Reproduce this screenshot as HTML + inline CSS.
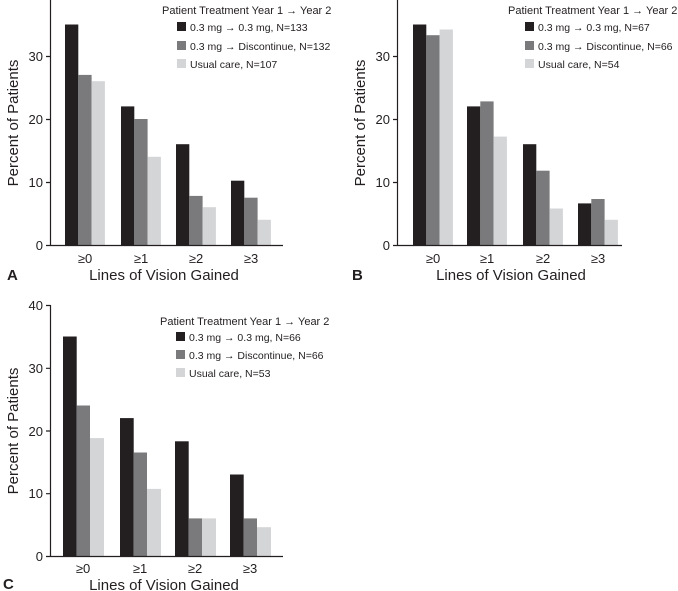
<!DOCTYPE html><html><head><style>body{margin:0;background:#fff}svg{display:block}text{font-family:"Liberation Sans",sans-serif;fill:#231f20}</style></head><body>
<svg width="678" height="591" viewBox="0 0 678 591" xmlns="http://www.w3.org/2000/svg">
<g id="A">
<g fill="#231f20"><rect x="65" y="24.5" width="13.3" height="220.5"/><rect x="121" y="106.4" width="13.3" height="138.6"/><rect x="176" y="144.2" width="13.3" height="100.8"/><rect x="231" y="180.7" width="13.3" height="64.3"/></g>
<g fill="#7a7a7c"><rect x="78.3" y="74.9" width="13.3" height="170.1"/><rect x="134.3" y="119" width="13.3" height="126"/><rect x="189.3" y="195.9" width="13.3" height="49.1"/><rect x="244.3" y="197.7" width="13.3" height="47.3"/></g>
<g fill="#d4d5d7"><rect x="91.6" y="81.2" width="13.3" height="163.8"/><rect x="147.6" y="156.8" width="13.3" height="88.2"/><rect x="202.6" y="207.2" width="13.3" height="37.8"/><rect x="257.6" y="219.8" width="13.3" height="25.2"/></g>
<path d="M50.5 0V245.5H283M46 56.5H50.5M46 119.5H50.5M46 182.5H50.5M46 245.5H50.5" stroke="#231f20" stroke-width="1.2" fill="none"/>
<g font-size="13" text-anchor="end"><text x="43" y="61">30</text><text x="43" y="124">20</text><text x="43" y="187">10</text><text x="43" y="250">0</text></g>
<g font-size="13" text-anchor="middle"><text x="85" y="263">≥0</text><text x="141" y="263">≥1</text><text x="196" y="263">≥2</text><text x="251" y="263">≥3</text></g>
<text x="164" y="280" font-size="15" text-anchor="middle">Lines of Vision Gained</text>
<text x="7" y="280" font-size="15" font-weight="bold">A</text>
<text transform="translate(18 123) rotate(-90)" font-size="15" text-anchor="middle">Percent of Patients</text>
<text x="162" y="14" font-size="11">Patient Treatment Year 1 → Year 2</text>
<rect x="177" y="22" width="9" height="9" fill="#231f20"/><text x="190" y="31" font-size="10.5">0.3 mg → 0.3 mg, N=133</text>
<rect x="177" y="41" width="9" height="9" fill="#7a7a7c"/><text x="190" y="50" font-size="10.5">0.3 mg → Discontinue, N=132</text>
<rect x="177" y="59" width="9" height="9" fill="#d4d5d7"/><text x="190" y="68" font-size="10.5">Usual care, N=107</text>
</g>
<g id="B">
<g fill="#231f20"><rect x="413" y="24.5" width="13.3" height="220.5"/><rect x="467" y="106.4" width="13.3" height="138.6"/><rect x="523" y="144.2" width="13.3" height="100.8"/><rect x="578" y="203.4" width="13.3" height="41.6"/></g>
<g fill="#7a7a7c"><rect x="426.3" y="35.2" width="13.3" height="209.8"/><rect x="480.3" y="101.4" width="13.3" height="143.6"/><rect x="536.3" y="170.7" width="13.3" height="74.3"/><rect x="591.3" y="199" width="13.3" height="46"/></g>
<g fill="#d4d5d7"><rect x="439.6" y="29.5" width="13.3" height="215.5"/><rect x="493.6" y="136.6" width="13.3" height="108.4"/><rect x="549.6" y="208.5" width="13.3" height="36.5"/><rect x="604.6" y="219.8" width="13.3" height="25.2"/></g>
<path d="M397.5 0V245.5H622M393 56.5H397.5M393 119.5H397.5M393 182.5H397.5M393 245.5H397.5" stroke="#231f20" stroke-width="1.2" fill="none"/>
<g font-size="13" text-anchor="end"><text x="390" y="61">30</text><text x="390" y="124">20</text><text x="390" y="187">10</text><text x="390" y="250">0</text></g>
<g font-size="13" text-anchor="middle"><text x="433" y="263">≥0</text><text x="487" y="263">≥1</text><text x="543" y="263">≥2</text><text x="598" y="263">≥3</text></g>
<text x="511" y="280" font-size="15" text-anchor="middle">Lines of Vision Gained</text>
<text x="352" y="280" font-size="15" font-weight="bold">B</text>
<text transform="translate(365 123) rotate(-90)" font-size="15" text-anchor="middle">Percent of Patients</text>
<text x="508" y="14" font-size="11">Patient Treatment Year 1 → Year 2</text>
<rect x="525" y="22" width="9" height="9" fill="#231f20"/><text x="538" y="31" font-size="10.5">0.3 mg → 0.3 mg, N=67</text>
<rect x="525" y="41" width="9" height="9" fill="#7a7a7c"/><text x="538" y="50" font-size="10.5">0.3 mg → Discontinue, N=66</text>
<rect x="525" y="59" width="9" height="9" fill="#d4d5d7"/><text x="538" y="68" font-size="10.5">Usual care, N=54</text>
</g>
<g id="C">
<g fill="#231f20"><rect x="63" y="336.5" width="13.7" height="219.5"/><rect x="120" y="418.1" width="13.7" height="137.9"/><rect x="175" y="441.3" width="13.7" height="114.7"/><rect x="230" y="474.5" width="13.7" height="81.5"/></g>
<g fill="#7a7a7c"><rect x="76.7" y="405.5" width="13.3" height="150.5"/><rect x="133.7" y="452.5" width="13.3" height="103.5"/><rect x="188.7" y="518.4" width="13.3" height="37.6"/><rect x="243.7" y="518.4" width="13.3" height="37.6"/></g>
<g fill="#d4d5d7"><rect x="90" y="438.1" width="14" height="117.9"/><rect x="147" y="488.9" width="14" height="67.1"/><rect x="202" y="518.4" width="14" height="37.6"/><rect x="257" y="527.2" width="14" height="28.8"/></g>
<path d="M50.5 305V556.5H283M46 305.5H50.5M46 368.3H50.5M46 431H50.5M46 493.7H50.5M46 556.5H50.5" stroke="#231f20" stroke-width="1.2" fill="none"/>
<g font-size="13" text-anchor="end"><text x="43" y="310">40</text><text x="43" y="373">30</text><text x="43" y="436">20</text><text x="43" y="498">10</text><text x="43" y="561">0</text></g>
<g font-size="13" text-anchor="middle"><text x="83" y="573">≥0</text><text x="140" y="573">≥1</text><text x="195" y="573">≥2</text><text x="250" y="573">≥3</text></g>
<text x="164" y="590" font-size="15" text-anchor="middle">Lines of Vision Gained</text>
<text x="3" y="589" font-size="15" font-weight="bold">C</text>
<text transform="translate(18 431) rotate(-90)" font-size="15" text-anchor="middle">Percent of Patients</text>
<text x="160" y="325" font-size="11">Patient Treatment Year 1 → Year 2</text>
<rect x="176" y="332" width="9" height="9" fill="#231f20"/><text x="189" y="341" font-size="10.5">0.3 mg → 0.3 mg, N=66</text>
<rect x="176" y="350" width="9" height="9" fill="#7a7a7c"/><text x="189" y="359" font-size="10.5">0.3 mg → Discontinue, N=66</text>
<rect x="176" y="368" width="9" height="9" fill="#d4d5d7"/><text x="189" y="377" font-size="10.5">Usual care, N=53</text>
</g>
</svg></body></html>
